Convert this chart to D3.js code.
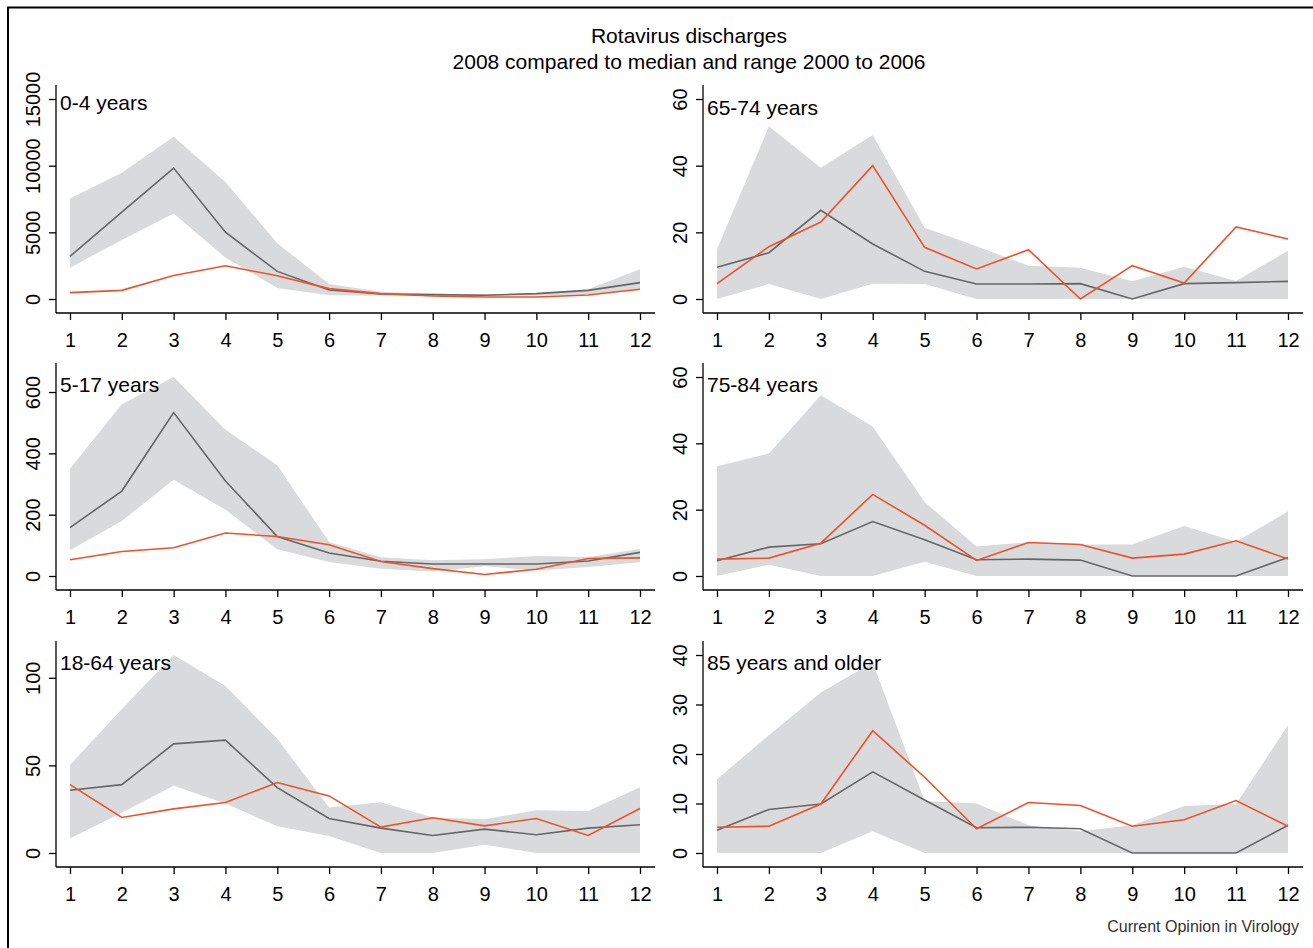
<!DOCTYPE html>
<html><head><meta charset="utf-8">
<script src="https://cdn.jsdelivr.net/npm/d3@7"></script>
<style>
html,body{margin:0;padding:0;background:#fff;}
svg{display:block;font-family:"Liberation Sans",Arial,Helvetica,sans-serif;}
</style>
</head><body>
<svg id="c" width="1313" height="948"></svg>
<script>
// ---------------- DATA ----------------
const months = [1,2,3,4,5,6,7,8,9,10,11,12];
const ageGroups = ["0-4 years","5-17 years","18-64 years","65-74 years","75-84 years","85 years and older"];

// upper edge of 2000-2006 range
const rangeMax = [
  [7530, 9470, 12170, 8770, 4180, 1130, 550, 400, 350, 450, 730, 2240],
  [350, 560, 649, 477, 361, 111, 61, 51, 55, 65, 62, 88],
  [50.2, 82.2, 113, 95.3, 65.2, 25.9, 29.0, 20.3, 19.3, 24.4, 23.9, 37.5],
  [14.9, 51.8, 39.4, 49.2, 21.4, 15.8, 10.0, 9.4, 5.3, 9.7, 5.4, 14.5],
  [33.1, 36.9, 54.5, 45.1, 22.3, 8.9, 10.2, 9.5, 9.5, 15.1, 10.3, 19.5],
  [14.9, 23.8, 32.4, 38.5, 10.5, 10.0, 5.6, 4.4, 5.6, 9.5, 9.9, 25.8]
];
// lower edge of 2000-2006 range
const rangeMin = [
  [2340, 4430, 6420, 3100, 830, 280, 250, 250, 250, 250, 350, 700],
  [84, 179, 314, 216, 87, 46, 24, 15, 32, 18, 29, 45],
  [8.3, 22.9, 38.4, 28.2, 15.2, 9.7, 0, 0, 4.7, 0, 0, 0],
  [0, 4.5, 0, 4.6, 4.5, 0, 0, 0, 0, 0, 0, 0],
  [0, 3.4, 0, 0, 4.3, 0, 0, 0, 0, 0, 0, 0],
  [0, 0, 0, 4.4, 0, 0, 0, 0, 0, 0, 0, 0]
];
// median 2000-2006
const median2000to2006 = [
  [3200, 6520, 9820, 5010, 2070, 680, 380, 330, 280, 400, 650, 1230],
  [158, 277, 533, 310, 129, 75, 48, 39, 39, 39, 49, 77],
  [35.8, 39.0, 62.3, 64.4, 37.3, 19.7, 14.2, 10.0, 13.6, 10.4, 14.2, 16.1],
  [9.5, 13.9, 26.6, 16.5, 8.3, 4.5, 4.5, 4.6, 0, 4.6, 4.9, 5.3],
  [4.6, 8.7, 9.7, 16.4, 10.9, 4.9, 5.1, 4.8, 0, 0, 0, 5.6],
  [4.6, 8.8, 9.9, 16.4, 10.7, 5.1, 5.2, 4.9, 0, 0, 0, 5.6]
];
// discharges 2008
const discharges2008 = [
  [480, 650, 1760, 2490, 1740, 780, 400, 230, 150, 150, 300, 730],
  [53, 80, 92, 140, 129, 102, 47, 24, 5, 22, 57, 59],
  [39.0, 20.3, 25.2, 28.8, 40.2, 32.6, 14.8, 20.1, 15.5, 19.7, 10.0, 25.4],
  [4.6, 15.7, 23.1, 40.0, 15.5, 9.0, 14.8, 0, 10.0, 4.8, 21.6, 18.0],
  [5.1, 5.4, 9.9, 24.6, 15.3, 4.7, 10.1, 9.5, 5.4, 6.6, 10.6, 5.1],
  [5.2, 5.4, 9.9, 24.7, 15.3, 4.9, 10.2, 9.6, 5.4, 6.7, 10.6, 5.4]
];
const yTicks = [
  [0, 5000, 10000, 15000],
  [0, 200, 400, 600],
  [0, 50, 100],
  [0, 20, 40, 60],
  [0, 20, 40, 60],
  [0, 10, 20, 30, 40]
];
const titleLines = ["Rotavirus discharges", "2008 compared to median and range 2000 to 2006"];
const sourceNote = "Current Opinion in Virology";

// ---------------- LAYOUT ----------------
const W = 1313, H = 948;
const colLeft = [56, 703], colRight = [655, 1303];
const rowTop = [85, 363, 641], rowBottom = [313, 590, 867];
const labelOffset = [25, 28.5, 28.5, 30, 28.5, 28.5];
const C_BAND = "#d9dadc", C_MED = "#666666", C_2008 = "#f0502a";

const svg = d3.select("#c");

// outer frame (top and left visible)
svg.append("path")
  .attr("d", `M8,${H} V7.5 H${W}`)
  .attr("fill", "none").attr("stroke", "#000").attr("stroke-width", 2);

// title
svg.selectAll("text.title").data(titleLines).enter().append("text")
  .attr("class", "title")
  .attr("x", 689).attr("y", (d, i) => 43 + i * 25.5)
  .attr("text-anchor", "middle")
  .attr("font-size", 21).attr("fill", "#000")
  .text(d => d);

ageGroups.forEach((name, i) => {
  const col = Math.floor(i / 3), row = i % 3;
  const L = colLeft[col], R = colRight[col], T = rowTop[row], B = rowBottom[row];
  const g = svg.append("g");

  const x = d3.scaleLinear().domain([1, 12]).range([L + 14, R - 15]);
  const yTop = Math.max(d3.max(rangeMax[i]), d3.max(median2000to2006[i]),
                        d3.max(discharges2008[i]), d3.max(yTicks[i]));
  const y = d3.scaleLinear().domain([0, yTop]).range([B - 14, T + 14]);

  // range band
  const area = d3.area()
    .x((d, j) => x(months[j]))
    .y0((d, j) => y(rangeMin[i][j]))
    .y1(d => y(d));
  g.append("path").attr("d", area(rangeMax[i])).attr("fill", C_BAND);

  const line = d3.line().x((d, j) => x(months[j])).y(d => y(d));
  g.append("path").attr("d", line(median2000to2006[i]))
    .attr("fill", "none").attr("stroke", C_MED).attr("stroke-width", 1.6)
    .attr("stroke-linejoin", "miter");
  g.append("path").attr("d", line(discharges2008[i]))
    .attr("fill", "none").attr("stroke", C_2008).attr("stroke-width", 1.6)
    .attr("stroke-linejoin", "miter");

  // y axis
  const ya = g.append("g").attr("transform", `translate(${L},0)`)
    .call(d3.axisLeft(y).tickValues(yTicks[i]).tickSize(7).tickSizeOuter(0).tickFormat(d3.format("d")));
  ya.select(".domain").remove();
  ya.selectAll(".tick line").attr("stroke", "#000").attr("stroke-width", 1.3);
  ya.selectAll(".tick text")
    .attr("x", null).attr("dy", null).attr("y", null)
    .attr("transform", "translate(-16,0) rotate(-90)")
    .attr("text-anchor", "middle")
    .attr("font-size", 20).attr("fill", "#000")
    .attr("font-family", null);
  g.append("line").attr("x1", L).attr("x2", L).attr("y1", T).attr("y2", B)
    .attr("stroke", "#000").attr("stroke-width", 1.3);

  // x axis
  const xa = g.append("g").attr("transform", `translate(0,${B})`)
    .call(d3.axisBottom(x).tickValues(months).tickSize(7).tickSizeOuter(0).tickFormat(d3.format("d")));
  xa.select(".domain").remove();
  xa.selectAll(".tick line").attr("stroke", "#000").attr("stroke-width", 1.3);
  xa.selectAll(".tick text")
    .attr("y", 34).attr("dy", null)
    .attr("font-size", 20).attr("fill", "#000")
    .attr("font-family", null);
  g.append("line").attr("x1", L).attr("x2", R).attr("y1", B).attr("y2", B)
    .attr("stroke", "#000").attr("stroke-width", 1.3);

  // panel label
  g.append("text").attr("x", L + 4).attr("y", T + labelOffset[i])
    .attr("font-size", 21).attr("fill", "#000").text(name);
});

// source note
svg.append("text").attr("x", 1299).attr("y", 932)
  .attr("text-anchor", "end").attr("font-size", 16).attr("fill", "#333")
  .text(sourceNote);
</script>
</body></html>
